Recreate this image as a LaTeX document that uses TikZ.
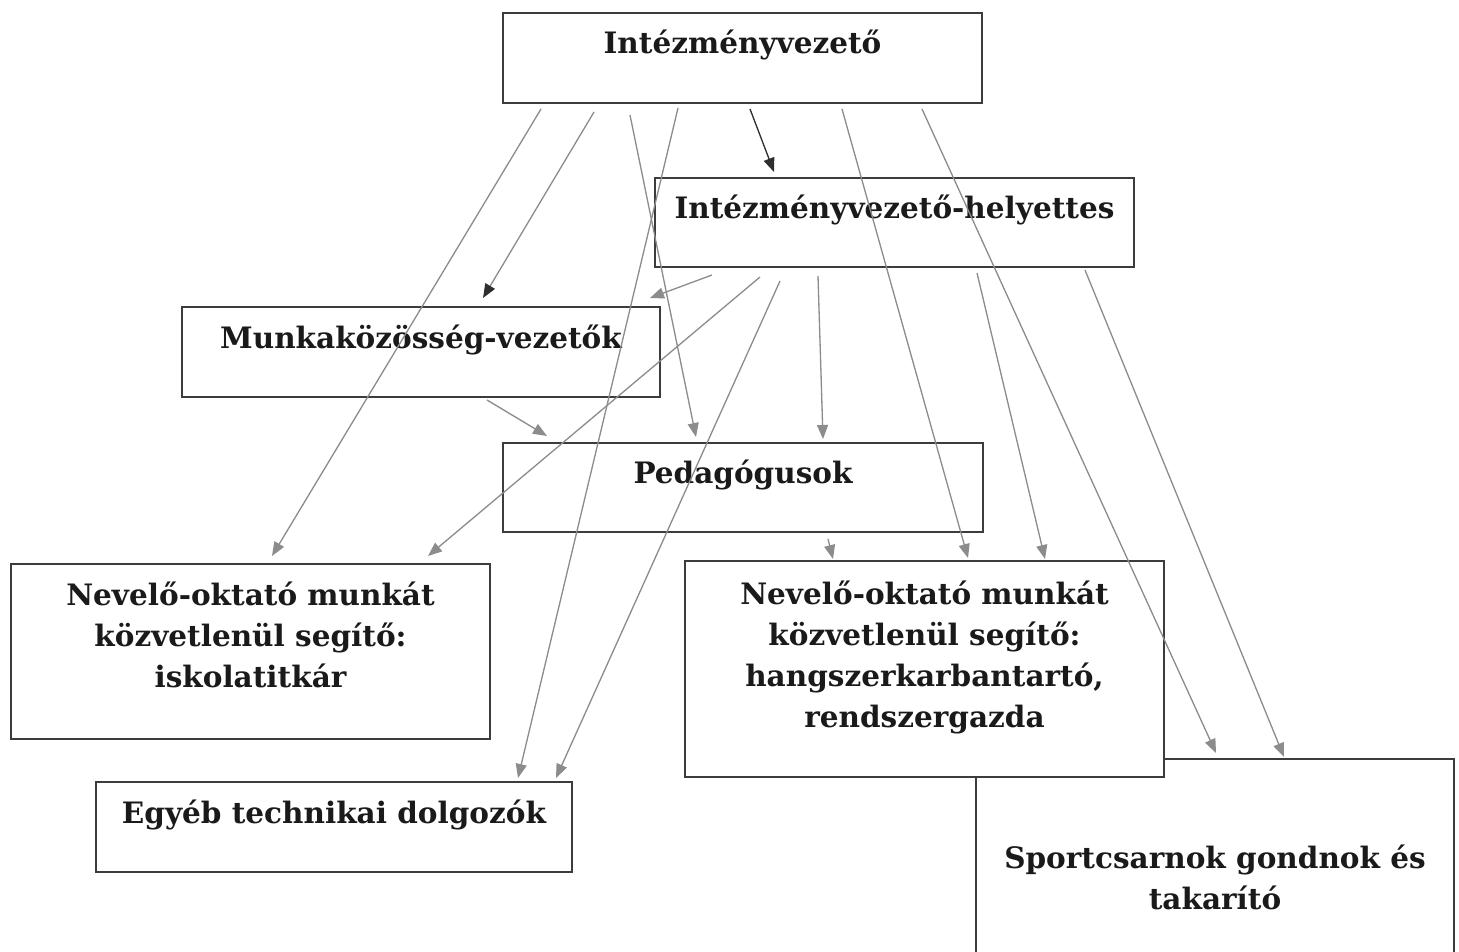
\documentclass[tikz,border=0pt]{standalone}
\usepackage{fontspec}
\setmainfont{DejaVu Serif}
\usetikzlibrary{arrows.meta}
\definecolor{boxc}{HTML}{3C3C3C}
\definecolor{arrc}{HTML}{8C8C8C}
\definecolor{darkarr}{HTML}{2E2E2E}
\definecolor{txtc}{HTML}{1A1A1A}
\newcommand\bxt[4]{\begin{minipage}[t][#2][t]{#1}\centering\fontsize{29.5pt}{41pt}\selectfont\bfseries\color{txtc}\rule{0pt}{#3}#4\end{minipage}}
\tikzset{
  box/.style={draw=boxc, line width=2pt, fill=white, inner sep=0pt, anchor=north west},
  arr/.style={draw=arrc, line width=1.3pt, -{Triangle[length=14pt,width=11pt]}, fill=arrc},
  darr/.style={draw=darkarr, line width=1.3pt, -{Triangle[length=14pt,width=11pt]}, fill=darkarr},
  garr/.style={draw=arrc, line width=1.3pt, -{Triangle[length=14pt,width=11pt,fill=darkarr,color=darkarr]}}
}
\begin{document}
\begin{tikzpicture}[x=1pt,y=-1pt]
\clip (0,0) rectangle (1459,952);
\fill[white] (0,0) rectangle (1459,952);
% boxes
\node[box] (sport) at (975,758) {\bxt{478pt}{230pt}{109pt}{Sportcsarnok gondnok és\\takarító}};
\node[box] (ivez) at (502,12) {\bxt{479pt}{90pt}{41pt}{Intézményvezető}};
\node[box] (hely) at (654,177) {\bxt{479pt}{89pt}{41pt}{Intézményvezető-helyettes}};
\node[box] (mkv) at (181,306) {\bxt{478pt}{90pt}{41pt}{Munkaközösség-vezetők}};
\node[box] (ped) at (502,442) {\bxt{480pt}{89pt}{40pt}{Pedagógusok}};
\node[box] (nevL) at (10,563) {\bxt{479pt}{175pt}{41pt}{Nevelő-oktató munkát\\közvetlenül segítő:\\iskolatitkár}};
\node[box] (nevR) at (684,560) {\bxt{479pt}{216pt}{43pt}{Nevelő-oktató munkát\\közvetlenül segítő:\\hangszerkarbantartó,\\rendszergazda}};
\node[box] (egy) at (95,781) {\bxt{476pt}{90pt}{41pt}{Egyéb technikai dolgozók}};
% arrows from Intézményvezető
\draw[arr] ([shift={(39,5)}]ivez.south west) -- ([shift={(262,-7)}]nevL.north west);
\draw[garr] ([shift={(92,8)}]ivez.south west) -- ([shift={(302,-8)}]mkv.north west);
\draw[arr] ([shift={(128,11)}]ivez.south west) -- ([shift={(194,-5)}]ped.north west);
\draw[arr] ([shift={(176,4)}]ivez.south west) -- ([shift={(423,-3)}]egy.north west);
\draw[darr] ([shift={(248,5)}]ivez.south west) -- ([shift={(120,-5)}]hely.north west);
\draw[arr] ([shift={(340,5)}]ivez.south west) -- ([shift={(284,-2)}]nevR.north west);
\draw[arr] ([shift={(420,5)}]ivez.south west) -- ([shift={(241,-5)}]sport.north west);
% arrows from helyettes
\draw[arr] ([shift={(58,7)}]hely.south west) -- ([shift={(469,-8)}]mkv.north west);
\draw[arr] ([shift={(106,9)}]hely.south west) -- ([shift={(418,-7)}]nevL.north west);
\draw[arr] ([shift={(126,13)}]hely.south west) -- ([shift={(461,-3)}]egy.north west);
\draw[arr] ([shift={(164,8)}]hely.south west) -- ([shift={(321,-3)}]ped.north west);
\draw[arr] ([shift={(323,5)}]hely.south west) -- ([shift={(361,-1)}]nevR.north west);
\draw[arr] ([shift={(431,2)}]hely.south west) -- ([shift={(309,-1)}]sport.north west);
% others
\draw[arr] ([shift={(306,2)}]mkv.south west) -- ([shift={(45,-6)}]ped.north west);
\draw[arr] ([shift={(326,6)}]ped.south west) -- ([shift={(149,-1)}]nevR.north west);
\end{tikzpicture}
\end{document}
